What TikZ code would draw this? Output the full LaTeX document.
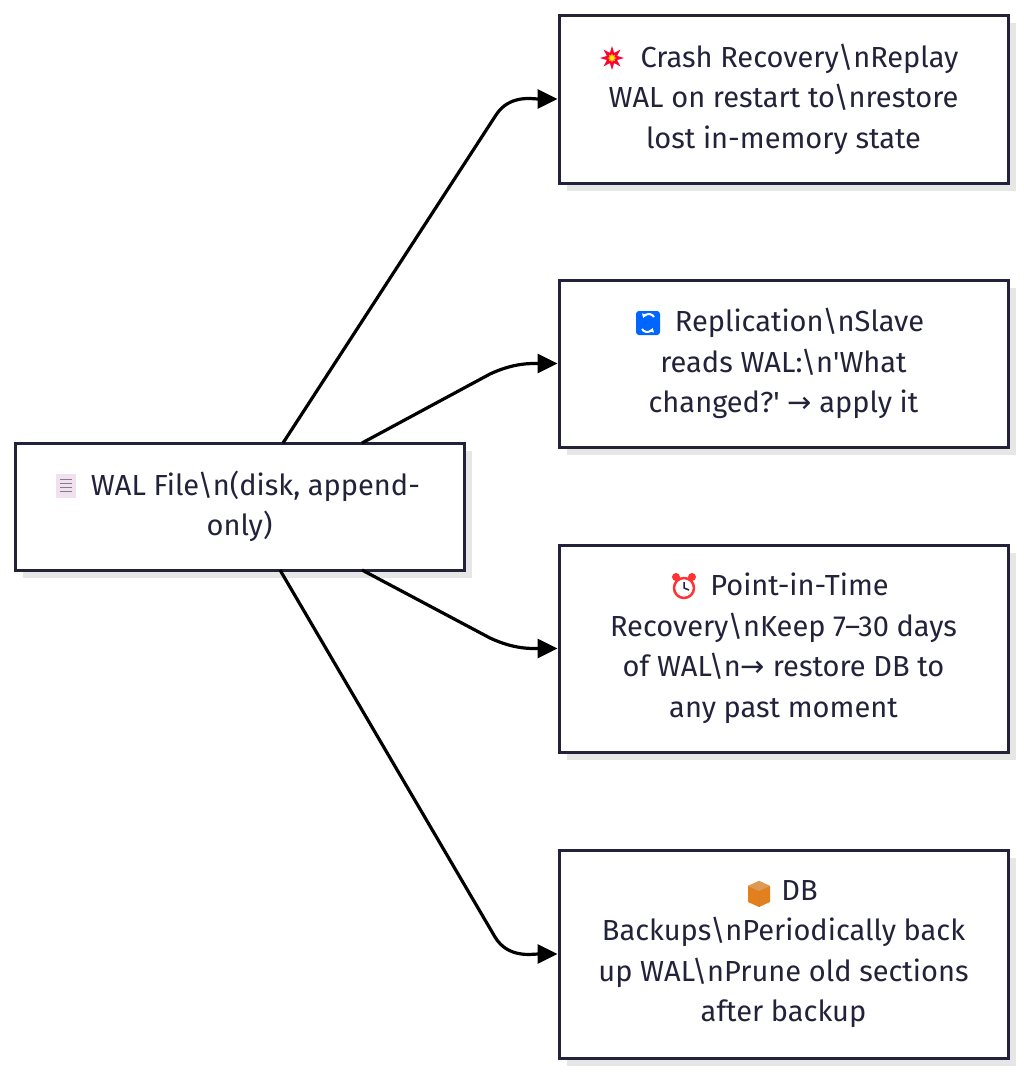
\documentclass[tikz,border=0pt]{standalone}
\usepackage{fontspec}
\setmainfont{Fira Sans}
\newfontfamily\dejavu{DejaVu Sans}
\usetikzlibrary{arrows.meta,shapes.geometric}
\definecolor{ink}{HTML}{22223A}
\definecolor{shad}{HTML}{E6E6E6}
\begin{document}
\begin{tikzpicture}[x=1pt,y=-1pt,
  box/.style={draw=ink,line width=3pt,fill=white,align=center,text=ink,font=\fontsize{29}{40.5}\selectfont,inner sep=0pt},
  arr/.style={draw=black,line width=3.2pt,-{Triangle[length=20pt,width=19pt]}},
  sh/.style={fill=shad,draw=none}]
\useasboundingbox (0,0) rectangle (1024,1074);
% shadows
\fill[shad] (23,451) rectangle (472,578);
\fill[shad] (567,23) rectangle (1016,191);
\fill[shad] (567,288) rectangle (1016,455);
\fill[shad] (567,553) rectangle (1016,760);
\fill[shad] (567,858) rectangle (1016,1066);
% boxes
\node[box,minimum width=449pt,minimum height=127pt] (wal) at (239.5,506.5) {\hspace{32pt}WAL File\textbackslash n(disk, append-\\only)};
\node[box,minimum width=449pt,minimum height=168pt] (crash) at (783.5,99) {\hspace{32pt}Crash Recovery\textbackslash nReplay\\WAL on restart to\textbackslash nrestore\\lost in-memory state};
\node[box,minimum width=449pt,minimum height=167pt] (repl) at (783.5,363.5) {\hspace{32pt}Replication\textbackslash nSlave\\reads WAL:\textbackslash n\textquotesingle What\\changed?\textquotesingle\ {\dejavu →} apply it};
\node[box,minimum width=449pt,minimum height=207pt] (pitr) at (783.5,648.5) {\hspace{32pt}Point-in-Time\\Recovery\textbackslash nKeep 7--30 days\\of WAL\textbackslash n{\dejavu →} restore DB to\\any past moment};
\node[box,minimum width=449pt,minimum height=208pt] (db) at (783.5,954) {\hspace{32pt}DB\\Backups\textbackslash nPeriodically back\\up WAL\textbackslash nPrune old sections\\after backup};
% icons
\fill[violet!12] (56,474) rectangle (76,498);
\foreach \yy in {479,483,487,491} \draw[gray,line width=1pt] (60,\yy) -- (72,\yy);
\node[star,star points=8,star point ratio=2.2,fill=red!80!magenta,minimum size=24pt,inner sep=0pt] (ic1) at (612,58) {};
\node[star,star points=8,star point ratio=2,fill=yellow!90!orange,minimum size=9pt,inner sep=0pt] at (612,58) {};
\fill[blue!60!cyan,rounded corners=3pt] (636,311) rectangle (660,335);
\draw[white,line width=2pt,-{Triangle[length=4pt,width=5pt]}] (654,317) arc (30:160:6pt);
\draw[white,line width=2pt,-{Triangle[length=4pt,width=5pt]}] (642,329) arc (210:340:6pt);
\fill[red!80] (676,577) circle (4pt); \fill[red!80] (692,577) circle (4pt);
\draw[red!80,line width=2.5pt,fill=white] (684,588) circle (10pt);
\draw[ink,line width=1.5pt] (684,582) -- (684,588) -- (689,590);
\fill[orange!55!brown] (748,886) -- (759,881) -- (770,886) -- (770,902) -- (759,907) -- (748,902) -- cycle;
\fill[orange!35!brown!80] (748,886) -- (759,891) -- (770,886) -- (759,881) -- cycle;
\draw[orange!30!brown,line width=1pt] (759,891) -- (759,907);
% connectors
\coordinate (s1) at (283,443);
\coordinate (s2) at (362,443);
\coordinate (s3) at (362,570);
\coordinate (s4) at (280,570);
\draw[arr] (s1) -- (496,115) to[out=57,in=180] (crash.west);
\draw[arr] (s2) -- (490,374) to[out=25,in=180] (repl.west);
\draw[arr] (s3) -- (490,638) to[out=-25,in=180] (pitr.west);
\draw[arr] (s4) -- (495,937) to[out=-59,in=180] (db.west);
\end{tikzpicture}
\end{document}
